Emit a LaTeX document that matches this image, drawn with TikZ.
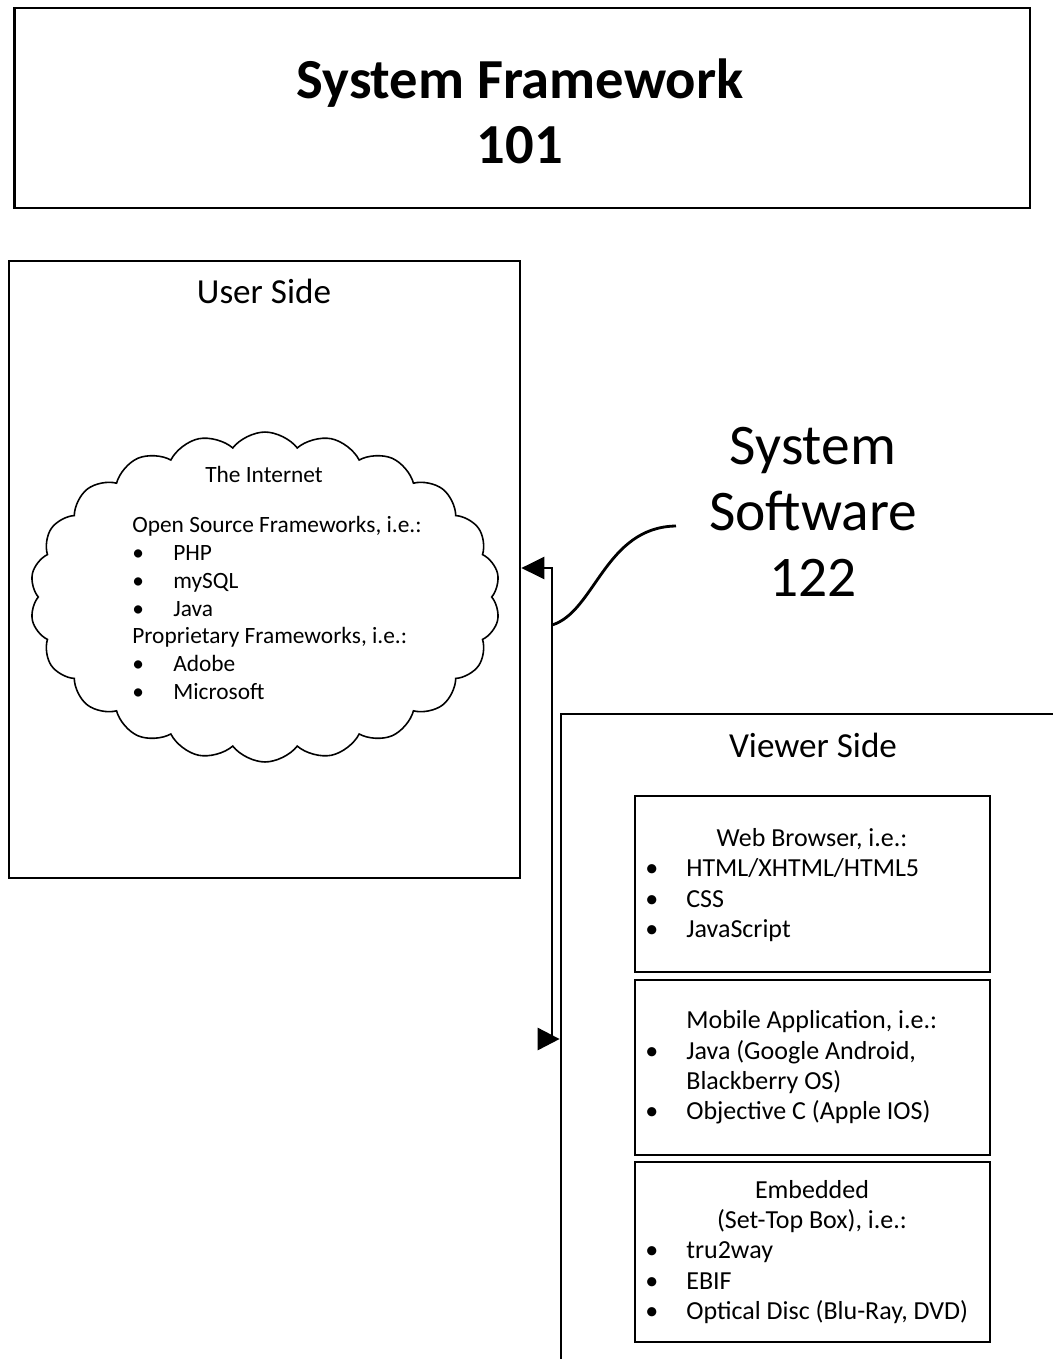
\documentclass[tikz,border=0pt]{standalone}
\usepackage{fontspec}
\setmainfont{Carlito}
\usetikzlibrary{shapes.symbols,arrows.meta}

\tikzset{
	box/.style={draw, line width=1.6pt, inner sep=0pt},
	line/.style={line width=1.6pt},
	head/.style={font=\fontsize{20}{24}\selectfont},
	txt/.style={anchor=base west, inner sep=0pt, font=\fontsize{13.3}{16}\selectfont},
	vtxt/.style={anchor=base west, inner sep=0pt, font=\fontsize{14.8}{18}\selectfont},
	ctxt/.style={vtxt, anchor=base}
}

\begin{document}
\begin{tikzpicture}[x=0.02cm, y=-0.02cm]
	\useasboundingbox (0,0) rectangle (1052,1359);
	
	\node[box, minimum width=20.32cm, minimum height=4cm] (frame) at (522,108) {};
	\node[align=center, font=\bfseries\fontsize{32.2}{37}\selectfont] (title) at (520,111) {System Framework\\101};
	
	% user side
	\node[box, minimum width=10.22cm, minimum height=12.34cm] (user) at (264.5,569.5) {};
	\node[head] (userlbl) at (264,291) {User Side};
	\node[cloud, draw, line width=0.9pt, cloud puffs=22, cloud puff arc=105, aspect=1.42, minimum width=9.4cm, minimum height=6.6cm, inner sep=0pt] (net) at (265,597) {};
	\node[txt, anchor=base] (inet) at (264,482) {The Internet};
	\node[txt] (os) at (132,532) {Open Source Frameworks, i.e.:};
	\foreach \t [count=\i] in {PHP,mySQL,Java} {
		\node[txt] (osb\i) at (132,532+28*\i) {\textbullet};
		\node[txt] (os\i) at (173,532+28*\i) {\t};
	}
	\node[txt] (pf) at (132,643) {Proprietary Frameworks, i.e.:};
	\foreach \t [count=\i] in {Adobe,Microsoft} {
		\node[txt] (pfb\i) at (132,643+28*\i) {\textbullet};
		\node[txt] (pf\i) at (173,643+28*\i) {\t};
	}
	
	% system software
	\node[align=center, font=\fontsize{32.7}{37.4}\selectfont] (sys) at (813,512) {System\\Software\\122};
	\coordinate (bustop) at (552,568);
	\coordinate (busbot) at (552,1039);
	\coordinate (tap) at (552,625);
	\draw[line] (tap) .. controls (595,612) and (605,527) .. (676,526);
	
	% viewer side
	\node[box, minimum width=10.98cm, minimum height=13.72cm] (viewer) at (835.5,1057) {};
	\node[head] (viewlbl) at (813,745) {Viewer Side};
	
	\draw[line, {Triangle[length=0.46cm,width=0.44cm]}-{Triangle[length=0.44cm,width=0.44cm]}] (user.east |- bustop) -- (bustop) -- (busbot) -- (viewer.west |- busbot);
	
	\node[box, minimum width=7.1cm, minimum height=3.52cm] (web) at (812.5,884) {};
	\node[ctxt] (webh) at (812,846) {Web Browser, i.e.:};
	\foreach \t [count=\i] in {HTML/XHTML/HTML5,CSS,JavaScript} {
		\node[vtxt] (webb\i) at (645,846+30.5*\i) {\textbullet};
		\node[vtxt] (web\i) at (686,846+30.5*\i) {\t};
	}
	
	\node[box, minimum width=7.1cm, minimum height=3.5cm] (mob) at (812.5,1067.5) {};
	\node[vtxt] (mobh) at (686,1028) {Mobile Application, i.e.:};
	\node[vtxt] (mobb1) at (645,1059) {\textbullet};
	\node[vtxt] (mob1) at (686,1059) {Java (Google Android,};
	\node[vtxt] (mob2) at (686,1089) {Blackberry OS)};
	\node[vtxt] (mobb3) at (645,1119) {\textbullet};
	\node[vtxt] (mob3) at (686,1119) {Objective C (Apple IOS)};
	
	\node[box, minimum width=7.1cm, minimum height=3.6cm] (emb) at (812.5,1252) {};
	\node[ctxt] (embh) at (812,1198) {Embedded};
	\node[ctxt] (embh2) at (812,1228) {(Set-Top Box), i.e.:};
	\foreach \t [count=\i] in {tru2way,EBIF,{Optical Disc (Blu-Ray, DVD)}} {
		\node[vtxt] (embb\i) at (645,1228+30.5*\i) {\textbullet};
		\node[vtxt] (emb\i) at (686,1228+30.5*\i) {\t};
	}
\end{tikzpicture}
\end{document}
